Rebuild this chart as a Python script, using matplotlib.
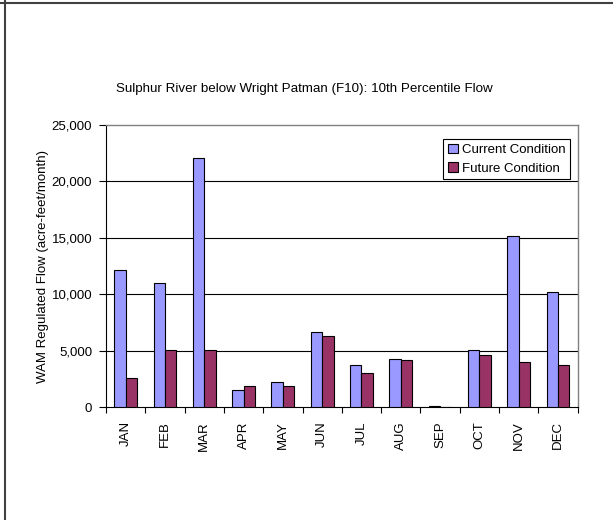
import numpy as np
import matplotlib.pyplot as plt
from matplotlib.lines import Line2D

plt.rcParams['font.family'] = ['Liberation Sans', 'DejaVu Sans']

months = ['JAN', 'FEB', 'MAR', 'APR', 'MAY', 'JUN',
          'JUL', 'AUG', 'SEP', 'OCT', 'NOV', 'DEC']
current = [12200, 11000, 22100, 1550, 2200, 6700, 3750, 4250, 140, 5050, 15150, 10250]
future = [2600, 5100, 5100, 1900, 1850, 6350, 3000, 4200, 0, 4600, 4000, 3750]

fig = plt.figure(figsize=(6.13, 5.2), dpi=100)
ax = fig.add_axes([0.1729, 0.2167, 0.7695, 0.5429])

x = np.arange(len(months))
w = 0.29
ax.bar(x - w / 2, current, w, color='#9999FF', edgecolor='black', lw=0.8,
       label='Current Condition', zorder=3)
ax.bar(x + w / 2, future, w, color='#993366', edgecolor='black', lw=0.8,
       label='Future Condition', zorder=3)

ax.set_xlim(-0.5, 11.5)
ax.set_ylim(0, 25000)
ax.set_yticks(np.arange(0, 25001, 5000))
ax.set_yticklabels([f'{v:,}' for v in range(0, 25001, 5000)], fontsize=9.5)
ax.set_xticks(x)
ax.set_xticklabels(months, rotation=90, fontsize=9.5)
ax.tick_params(axis='x', which='major', length=0, pad=10)
ax.set_xticks(np.arange(-0.5, 12, 1), minor=True)
ax.tick_params(axis='x', which='minor', length=4, direction='out', width=0.8)
ax.tick_params(axis='y', length=5, direction='out', width=0.8, pad=5)

for v in range(5000, 25000, 5000):
    ax.axhline(v, color='black', lw=0.8, zorder=1)

for side in ['top', 'right']:
    ax.spines[side].set_color('#808080')
    ax.spines[side].set_linewidth(1.0)
for side in ['left', 'bottom']:
    ax.spines[side].set_linewidth(0.8)

ax.set_ylabel('WAM Regulated Flow (acre-feet/month)', fontsize=9.5, labelpad=2)
fig.text(0.497, 0.829, 'Sulphur River below Wright Patman (F10): 10th Percentile Flow',
         ha='center', va='center', fontsize=9.6)

leg = ax.legend(loc='upper right', bbox_to_anchor=(0.984, 0.95), fontsize=9.5,
                frameon=True, fancybox=False, edgecolor='black', framealpha=1,
                handlelength=0.75, handleheight=0.75, handletextpad=0.3,
                borderpad=0.35, labelspacing=0.45, borderaxespad=0)
leg.get_frame().set_linewidth(0.8)

# outer frame lines
fig.add_artist(Line2D([0, 1], [0.994, 0.994], color='#404040', lw=1.5))
fig.add_artist(Line2D([0.0075, 0.0075], [0, 1], color='#404040', lw=1.5))

fig.savefig('out.png', dpi=100)
